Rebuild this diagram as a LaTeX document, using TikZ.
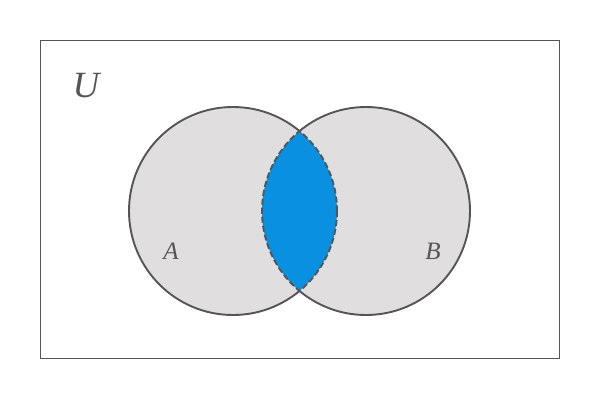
\documentclass[tikz,border=0pt]{standalone}
\usepackage{fontspec}
\setmainfont{Liberation Serif}
\definecolor{setfill}{HTML}{E0DEDF}
\definecolor{edge}{HTML}{555555}
\definecolor{inter}{HTML}{0A90E0}
\tikzset{
  setcircle/.style={fill=setfill, circle, minimum size=208pt, inner sep=0pt},
  rim/.style={draw=edge, line width=1.9pt},
  dashrim/.style={draw=edge, line width=1.9pt, dash pattern=on 6pt off 3pt},
  lbl/.style={text=edge, font=\itshape, inner sep=0pt},
}
\begin{document}
\begin{tikzpicture}[x=1pt,y=-1pt]
\useasboundingbox (0,0) rectangle (600,400);
\node[draw=edge, line width=0.9pt, minimum width=519pt, minimum height=318pt, inner sep=0pt, anchor=north west] (U) at (40,40) {};
\node[setcircle] (A) at (233,211) {};
\node[setcircle] (B) at (366,211) {};
\begin{scope}
  \clip (233,211) circle[radius=104];
  \fill[inter] (366,211) circle[radius=104];
\end{scope}
% solid outer arcs
\begin{scope}[even odd rule]
  \clip (0,0) rectangle (600,400) (366,211) circle[radius=104];
  \path[rim] (233,211) circle[radius=104];
\end{scope}
\begin{scope}[even odd rule]
  \clip (0,0) rectangle (600,400) (233,211) circle[radius=104];
  \path[rim] (366,211) circle[radius=104];
\end{scope}
% dashed inner arcs
\begin{scope}
  \clip (233,211) circle[radius=104.5];
  \path[dashrim] (366,211) circle[radius=104];
\end{scope}
\begin{scope}
  \clip (366,211) circle[radius=104.5];
  \path[dashrim] (233,211) circle[radius=104];
\end{scope}
\node[lbl, font=\itshape\fontsize{37}{37}\selectfont] (lu) at (86,86) {U};
\node[lbl, font=\itshape\fontsize{25}{25}\selectfont] (la) at (171,251) {A};
\node[lbl, font=\itshape\fontsize{25}{25}\selectfont] (lb) at (433,251) {B};
\end{tikzpicture}
\end{document}
